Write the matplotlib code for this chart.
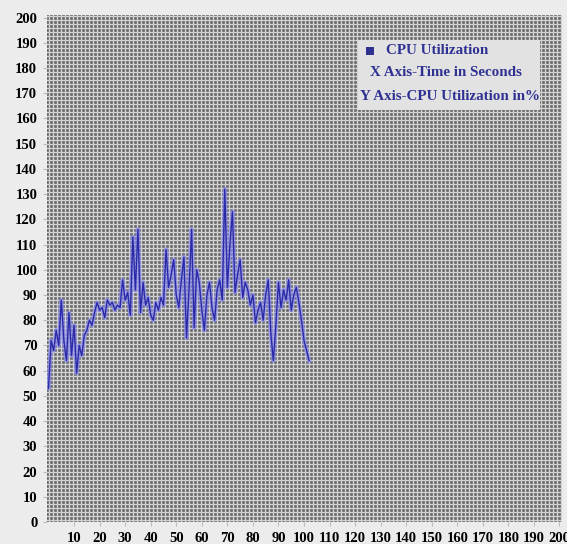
import numpy as np
import matplotlib
matplotlib.use("Agg")
import matplotlib.pyplot as plt
from matplotlib.patches import Rectangle

# ---- data ----
time_s = list(range(0, 103))
cpu_util = [53, 72, 68, 76, 70, 88, 72, 64, 83, 66,
            78, 59, 70, 66, 74, 76, 80, 78, 83, 87,
            84, 85, 81, 88, 86, 87, 84, 86, 85, 96,
            88, 91, 82, 113, 92, 116, 83, 95, 86, 89,
            82, 80, 87, 84, 89, 86, 108, 93, 98, 104,
            90, 85, 96, 105, 73, 92, 116, 77, 100, 95,
            84, 76, 90, 95, 85, 80, 92, 96, 88, 132,
            93, 110, 123, 91, 98, 104, 89, 95, 92, 86,
            90, 79, 84, 87, 80, 90, 96, 75, 64, 78,
            95, 85, 92, 88, 96, 84, 90, 93, 87, 80,
            72, 68, 64]
x_ticks = list(range(10, 201, 10))
y_ticks = list(range(0, 201, 10))
legend_lines = ["CPU Utilization", "X Axis-Time in Seconds", "Y Axis-CPU Utilization in%"]

W, H = 567, 544
AX_L, AX_R, AX_T, AX_B = 47, 562, 15, 522
XMIN, XMAX, YMIN, YMAX = -0.6, 201.0, 0.0, 201.0
fig = plt.figure(figsize=(W / 100, H / 100), dpi=100, facecolor="#ececec")
ax = fig.add_axes([AX_L / W, 1 - AX_B / H, (AX_R - AX_L) / W, (AX_B - AX_T) / H])
ax.set_facecolor("#646464")

# dense background grid, spaced at a constant 4 px
gx = 4 * (XMAX - XMIN) / (AX_R - AX_L)
gy = 4 * (YMAX - YMIN) / (AX_B - AX_T)
ax.set_xticks(np.arange(XMIN + gx / 2, XMAX, gx), minor=True)
ax.set_yticks(np.arange(YMIN + gy / 2, YMAX, gy), minor=True)
ax.grid(which="minor", color="#d2d2d2", linewidth=1.0)
ax.grid(which="major", visible=False)
ax.tick_params(which="minor", length=0)

ax.plot(time_s, cpu_util, color="#8c8cf0", linewidth=3.2, alpha=0.7, zorder=3)
ax.plot(time_s, cpu_util, color="#2a2aa8", linewidth=1.0, zorder=4)

ax.set_xlim(XMIN, XMAX)
ax.set_ylim(YMIN, YMAX)
ax.set_xticks(x_ticks)
ax.set_yticks(y_ticks)
ax.set_xticklabels([str(v) for v in x_ticks])
ax.set_yticklabels([str(v) for v in y_ticks])
ax.tick_params(which="major", length=3, color="#bbbbbb", width=0.8, pad=4)
for lab in ax.get_xticklabels() + ax.get_yticklabels():
    lab.set_fontfamily("Liberation Serif")
    lab.set_fontweight("bold")
    lab.set_fontsize(10.5)
    lab.set_color("black")
for s in ax.spines.values():
    s.set_visible(False)

# legend-like box
box = Rectangle((358 / W, 1 - 110 / H), 182 / W, 70 / H, transform=fig.transFigure,
                facecolor="#e2e2e2", edgecolor="none", zorder=5)
fig.patches.append(box)
txt_color = "#2e3192"
sq = Rectangle((366 / W, 1 - 55 / H), 8 / W, 8 / H, transform=fig.transFigure,
               facecolor=txt_color, edgecolor="none", zorder=6)
fig.patches.append(sq)
kw = dict(fontfamily="Liberation Serif", fontweight="bold", fontsize=10.8,
          color=txt_color, va="center", zorder=7)
fig.text(386 / W, 1 - 51 / H, legend_lines[0], ha="left", **kw)
fig.text(446 / W, 1 - 73 / H, legend_lines[1], ha="center", **kw)
fig.text(450 / W, 1 - 96 / H, legend_lines[2], ha="center", **kw)

fig.savefig("out.png", dpi=100, facecolor=fig.get_facecolor())
